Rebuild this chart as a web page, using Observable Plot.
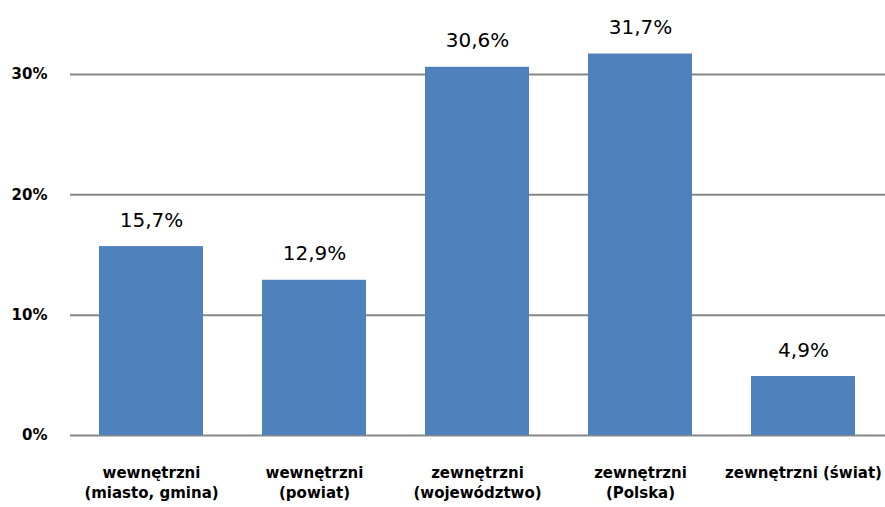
<!DOCTYPE html>
<html>
<head>
<meta charset="utf-8">
<script src="https://cdn.jsdelivr.net/npm/d3@7"></script>
<script src="https://cdn.jsdelivr.net/npm/@observablehq/plot@0.6"></script>
<style>
  html, body { margin: 0; padding: 0; background: #fff; }
</style>
</head>
<body>
<div id="chart"></div>
<script>
const categories = [
  "wewnętrzni\n(miasto, gmina)",
  "wewnętrzni\n(powiat)",
  "zewnętrzni\n(województwo)",
  "zewnętrzni\n(Polska)",
  "zewnętrzni (świat)"
];
const values = [15.7, 12.9, 30.6, 31.7, 4.9];
const yTicks = [0, 10, 20, 30];

const data = categories.map((c, i) => ({category: c, value: values[i]}));

const chart = Plot.plot({
  width: 885,
  height: 507,
  marginLeft: 70,
  marginRight: 0,
  marginTop: 74,
  marginBottom: 72,
  style: {fontFamily: "'DejaVu Sans', sans-serif", background: "#fff", color: "#000"},
  x: {domain: categories, paddingInner: 0.36, paddingOuter: 0.18, label: null},
  y: {domain: [0, 30], label: null},
  marks: [
    Plot.ruleY(yTicks, {stroke: "#878787", strokeWidth: 2}),
    Plot.barY(data, {x: "category", y: "value", fill: "#4F81BD"}),
    Plot.text(data, {
      x: "category", y: "value",
      text: d => d.value.toFixed(1).replace(".", ",") + "%",
      lineAnchor: "bottom", dy: -20,
      fontSize: 20, fill: "#000"
    }),
    Plot.axisY({
      ticks: yTicks, tickSize: 0, tickPadding: 23,
      tickFormat: d => d + "%",
      fontSize: 15, fontWeight: "bold", fill: "#000", label: null
    }),
    Plot.axisX({
      tickSize: 0, tickPadding: 28, lineHeight: 1.333,
      fontSize: 15, fontWeight: "bold", fill: "#000", label: null
    })
  ]
});
document.getElementById("chart").appendChild(chart);
</script>
</body>
</html>
